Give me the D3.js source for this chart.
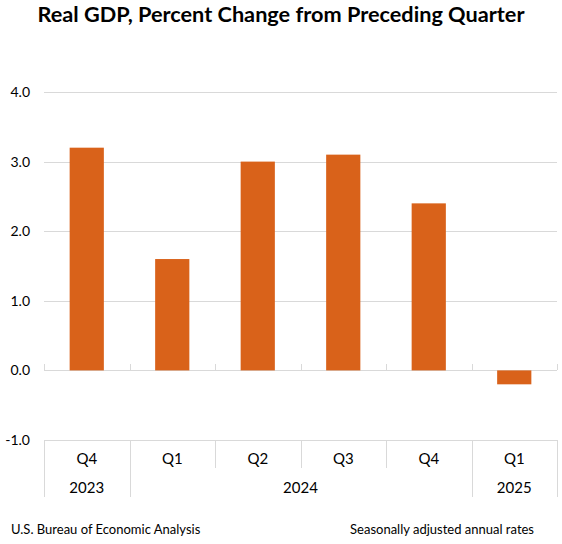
<!DOCTYPE html>
<html>
<head>
<meta charset="utf-8">
<script src="https://cdn.jsdelivr.net/npm/d3@7"></script>
<style>
  body { margin: 0; background: #fff; }
  text { font-family: Lato, "Open Sans", sans-serif; fill: #000; }
</style>
</head>
<body>
<svg id="chart" width="562" height="544"></svg>
<script>
var quarters = ["Q4", "Q1", "Q2", "Q3", "Q4", "Q1"],
    years = [{label: "2023", from: 0, to: 1}, {label: "2024", from: 1, to: 5}, {label: "2025", from: 5, to: 6}],
    gdpChange = [3.2, 1.6, 3.0, 3.1, 2.4, -0.2],
    yTicks = [-1, 0, 1, 2, 3, 4];

var svg = d3.select("#chart"),
    plotLeft = 44, plotRight = 557, plotTop = 92, plotBottom = 440;

var x = d3.scaleBand()
    .domain(d3.range(quarters.length))
    .range([plotLeft, plotRight])
    .paddingInner(0.6)
    .paddingOuter(0.3);

var y = d3.scaleLinear().domain([-1, 4]).range([plotBottom, plotTop]);

var grid = "#d9d9d9",
    fmt = d3.formatLocale({decimal: ".", thousands: ",", grouping: [3], currency: ["$", ""], minus: "-"}).format(".1f");

svg.append("text")
    .attr("x", 281).attr("y", 22)
    .attr("text-anchor", "middle")
    .style("font-weight", "bold")
    .style("font-size", "21.7px")
    .text("Real GDP, Percent Change from Preceding Quarter");

// gridlines
svg.append("g").selectAll("line")
  .data(yTicks)
  .join("line")
    .attr("x1", plotLeft).attr("x2", plotRight)
    .attr("y1", function(d) { return Math.round(y(d)) + 0.5; })
    .attr("y2", function(d) { return Math.round(y(d)) + 0.5; })
    .attr("stroke", grid);

// y labels
svg.append("g").selectAll("text")
  .data(yTicks)
  .join("text")
    .attr("x", 30).attr("y", function(d) { return y(d); })
    .attr("dy", "0.35em")
    .attr("text-anchor", "end")
    .style("font-size", "14px")
    .text(fmt);

// bars
svg.append("g").selectAll("rect")
  .data(gdpChange)
  .join("rect")
    .attr("x", function(d, i) { return x(i); })
    .attr("width", x.bandwidth())
    .attr("y", function(d) { return y(Math.max(0, d)); })
    .attr("height", function(d) { return Math.abs(y(d) - y(0)); })
    .attr("fill", "#d9621a");

// ticks on zero line at category boundaries
var step = x.step(),
    bounds = d3.range(quarters.length + 1).map(function(i) { return plotLeft + i * step; });

svg.append("g").selectAll("line")
  .data(bounds)
  .join("line")
    .attr("x1", function(d) { return Math.round(d) + 0.5; })
    .attr("x2", function(d) { return Math.round(d) + 0.5; })
    .attr("y1", Math.round(y(0)) - 6)
    .attr("y2", Math.round(y(0)))
    .attr("stroke", grid);

// category axis separators
var yearEdges = [0].concat(years.map(function(d) { return d.to; }));
svg.append("g").selectAll("line")
  .data(d3.range(quarters.length + 1))
  .join("line")
    .attr("x1", function(i) { return Math.round(bounds[i]) + 0.5; })
    .attr("x2", function(i) { return Math.round(bounds[i]) + 0.5; })
    .attr("y1", plotBottom)
    .attr("y2", function(i) { return yearEdges.indexOf(i) >= 0 ? 497 : 468; })
    .attr("stroke", grid);

svg.append("g").selectAll("text")
  .data(quarters)
  .join("text")
    .attr("x", function(d, i) { return plotLeft + (i + 0.5) * step; })
    .attr("y", 464)
    .attr("text-anchor", "middle")
    .style("font-size", "15px")
    .text(function(d) { return d; });

svg.append("g").selectAll("text")
  .data(years)
  .join("text")
    .attr("x", function(d) { return plotLeft + (d.from + d.to) / 2 * step; })
    .attr("y", 493)
    .attr("text-anchor", "middle")
    .style("font-size", "15px")
    .text(function(d) { return d.label; });

svg.append("text")
    .attr("x", 11).attr("y", 534)
    .style("font-size", "13px")
    .text("U.S. Bureau of Economic Analysis");

svg.append("text")
    .attr("x", 534).attr("y", 534)
    .attr("text-anchor", "end")
    .style("font-size", "13px")
    .text("Seasonally adjusted annual rates");
</script>
</body>
</html>
